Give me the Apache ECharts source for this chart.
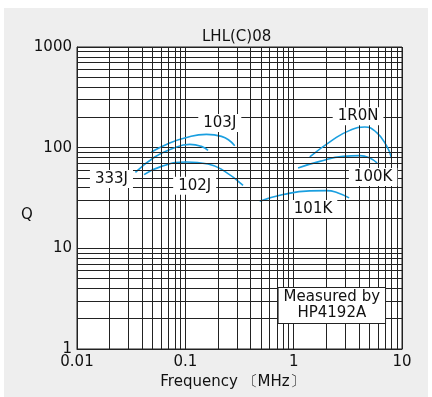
<!DOCTYPE html>
<html><head><meta charset="utf-8">
<script src="https://cdn.jsdelivr.net/npm/echarts@6/dist/echarts.min.js"></script>
<style>html,body{margin:0;padding:0;background:#fff}#c{width:432px;height:397px}</style>
</head><body><div id="c"></div>
<script>
// Tick labels
const xTickLabels = ['0.01', '0.1', '1', '10'];
const yTickLabels = ['1', '10', '100', '1000'];

// Curves: frequency (MHz) and Q
const f333J = [0.0346, 0.0522, 0.0744, 0.1098, 0.1408, 0.162];
const q333J = [56.9, 80.8, 97.1, 107.8, 103.0, 94.0];
const f103J = [0.0486, 0.0692, 0.0987, 0.1566, 0.2154, 0.2858];
const q103J = [90.6, 109.6, 124.8, 135.6, 129.5, 104.7];
const f102J = [0.0416, 0.0602, 0.1024, 0.162, 0.2311, 0.341];
const q102J = [53.9, 65.2, 72.1, 68.9, 58.2, 42.2];
const f1R0N = [1.408, 2.311, 3.30, 4.535, 5.814, 7.19, 8.0];
const q1R0N = [80.8, 120.1, 148.5, 160.6, 141.9, 104.7, 79.0];
const f100K = [1.098, 1.742, 2.858, 4.076, 5.04, 5.89];
const q100K = [62.9, 73.1, 81.9, 83.3, 79.0, 70.5];
const f101K = [0.486, 0.798, 1.408, 2.009, 2.57, 3.25];
const q101K = [29.3, 34.2, 37.2, 37.4, 35.5, 31.7];

// Curve labels
const labelNames = ['103J', '333J', '102J', '1R0N', '100K', '101K'];
const labelF = [0.208, 0.0208, 0.122, 3.93, 5.41, 1.51];
const labelQ = [176, 48.9, 41.9, 204.6, 51.2, 24.6];

const noteText = 'Measured by\nHP4192A';
const noteF = 2.25;
const noteQ = 2.7;

// Minor log grid positions
const decadesX = [0.01, 0.1, 1];
const decadesY = [1, 10, 100];
const mults = [2, 3, 4, 5, 6, 7, 8, 9];
const xMinor = [];
decadesX.forEach(d => mults.forEach(m => xMinor.push(+(d * m).toPrecision(3))));
const yMinor = [];
decadesY.forEach(d => mults.forEach(m => yMinor.push(d * m)));

const blue = '#1a9fe0';
const ink = '#111';
const font = '"DejaVu Sans", sans-serif';
const pair = (f, q) => f.map((v, i) => [v, q[i]]);

function curve(name, f, q) {
  return {
    name, type: 'line', smooth: 0.5, showSymbol: false, symbol: 'none', z: 4,
    data: pair(f, q), lineStyle: { color: blue, width: 1.6 }, silent: true
  };
}

const chart = echarts.init(document.getElementById('c'), null, { renderer: 'canvas' });
chart.setOption({
  animation: false,
  backgroundColor: '#fff',
  graphic: [{
    type: 'rect', z: -100, silent: true,
    shape: { x: 4, y: 8, width: 424, height: 389 },
    style: { fill: '#eeeeee' }
  }, {
    type: 'text', silent: true, left: 21, top: 208,
    style: { text: 'Q', font: '15px "DejaVu Sans", sans-serif', fill: ink }
  }],
  title: {
    text: 'LHL(C)08', left: 197, top: 25,
    textStyle: { fontFamily: font, fontSize: 15, fontWeight: 'normal', color: ink }
  },
  grid: {
    left: 77, right: 30, top: 47, bottom: 48, show: true,
    backgroundColor: '#fff', borderColor: '#222', borderWidth: 1
  },
  xAxis: {
    type: 'log', logBase: 10, min: 0.01, max: 10,
    name: 'Frequency 〔MHz〕', nameLocation: 'middle', nameGap: 26,
    nameTextStyle: { fontFamily: font, fontSize: 15, color: ink, padding: [0, 14, 0, 0] },
    axisLine: { show: true, lineStyle: { color: '#222', width: 1 } },
    axisTick: { show: false },
    axisLabel: {
      margin: 6, fontFamily: font, fontSize: 15, color: ink,
      formatter: v => xTickLabels[Math.round(Math.log10(v)) + 2]
    },
    splitLine: { show: true, lineStyle: { color: '#222', width: 1 } }
  },
  yAxis: {
    type: 'log', logBase: 10, min: 1, max: 1000,
    axisLine: { show: true, lineStyle: { color: '#222', width: 1 } },
    axisTick: { show: false },
    axisLabel: {
      margin: 5, fontFamily: font, fontSize: 15, color: ink,
      formatter: v => yTickLabels[Math.round(Math.log10(v))]
    },
    splitLine: { show: true, lineStyle: { color: '#222', width: 1 } }
  },
  series: [
    {
      name: 'grid', type: 'line', data: [], z: 1, silent: true,
      markLine: {
        silent: true, symbol: ['none', 'none'], label: { show: false },
        lineStyle: { color: '#222', width: 1, type: 'solid' },
        emphasis: { disabled: true },
        data: xMinor.map(v => ({ xAxis: v })).concat(yMinor.map(v => ({ yAxis: v })))
      }
    },
    curve('333J', f333J, q333J),
    curve('103J', f103J, q103J),
    curve('102J', f102J, q102J),
    curve('1R0N', f1R0N, q1R0N),
    curve('100K', f100K, q100K),
    curve('101K', f101K, q101K),
    {
      name: 'labels', type: 'scatter', z: 6, silent: true, symbolSize: 2,
      itemStyle: { color: 'rgba(0,0,0,0)', opacity: 1 },
      data: labelNames.map((n, i) => [labelF[i], labelQ[i], n]),
      label: {
        show: true, position: 'inside', formatter: p => p.data[2], opacity: 1,
        fontFamily: font, fontSize: 15, color: ink,
        backgroundColor: '#fff', padding: [2, 5, 1, 5]
      }
    },
    {
      name: 'note', type: 'scatter', z: 6, silent: true, symbolSize: 2,
      itemStyle: { color: 'rgba(0,0,0,0)', opacity: 1 },
      data: [[noteF, noteQ, noteText]],
      label: {
        show: true, position: 'inside', formatter: p => p.data[2], opacity: 1,
        fontFamily: font, fontSize: 15, color: ink, lineHeight: 16, align: 'center',
        backgroundColor: '#fff', borderColor: '#222', borderWidth: 1, padding: [2, 5, 1, 5]
      }
    }
  ]
});
</script></body></html>
